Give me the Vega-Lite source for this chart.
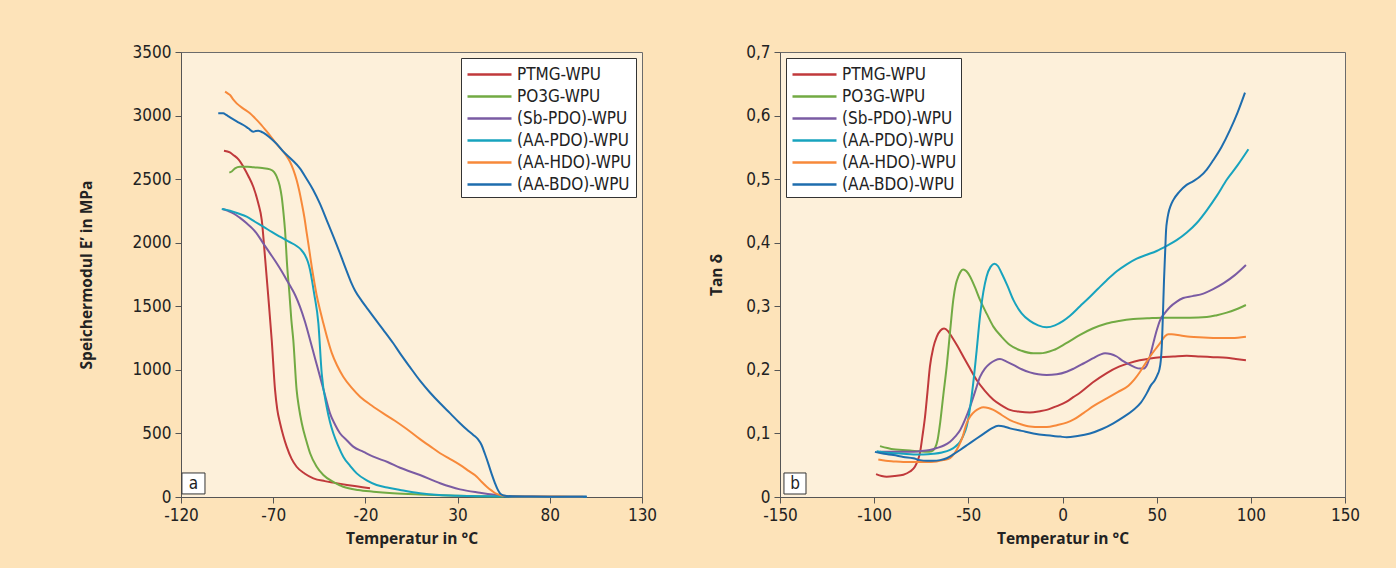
{
"$schema": "https://vega.github.io/schema/vega-lite/v6.json",
"background": "#FDE3B9",
"padding": {"left": 78, "top": 42, "right": 60, "bottom": 40},
"spacing": 51,
"datasets": {
"modul": [
{"s":"PTMG-WPU","t":-96.7,"v":2724},{"s":"PTMG-WPU","t":-93.5,"v":2710},{"s":"PTMG-WPU","t":-91.6,"v":2690},{"s":"PTMG-WPU","t":-88.5,"v":2650},{"s":"PTMG-WPU","t":-86.2,"v":2598},{"s":"PTMG-WPU","t":-83.5,"v":2525},{"s":"PTMG-WPU","t":-80.8,"v":2440},{"s":"PTMG-WPU","t":-78.1,"v":2310},{"s":"PTMG-WPU","t":-76.2,"v":2178},{"s":"PTMG-WPU","t":-74.4,"v":1880},{"s":"PTMG-WPU","t":-72.8,"v":1600},{"s":"PTMG-WPU","t":-70.8,"v":1235},{"s":"PTMG-WPU","t":-69,"v":842},{"s":"PTMG-WPU","t":-67.8,"v":690},{"s":"PTMG-WPU","t":-66.3,"v":582},{"s":"PTMG-WPU","t":-64.5,"v":480},{"s":"PTMG-WPU","t":-62.7,"v":396},{"s":"PTMG-WPU","t":-60,"v":300},{"s":"PTMG-WPU","t":-57.3,"v":238},{"s":"PTMG-WPU","t":-53,"v":185},{"s":"PTMG-WPU","t":-48.2,"v":147},{"s":"PTMG-WPU","t":-42,"v":125},{"s":"PTMG-WPU","t":-37.4,"v":113},{"s":"PTMG-WPU","t":-30,"v":95},{"s":"PTMG-WPU","t":-24,"v":82},{"s":"PTMG-WPU","t":-17.5,"v":68},
{"s":"PO3G-WPU","t":-93.8,"v":2551},{"s":"PO3G-WPU","t":-92.5,"v":2560},{"s":"PO3G-WPU","t":-90.7,"v":2585},{"s":"PO3G-WPU","t":-88,"v":2598},{"s":"PO3G-WPU","t":-84,"v":2598},{"s":"PO3G-WPU","t":-80.8,"v":2593},{"s":"PO3G-WPU","t":-76,"v":2588},{"s":"PO3G-WPU","t":-71.7,"v":2577},{"s":"PO3G-WPU","t":-69.5,"v":2555},{"s":"PO3G-WPU","t":-68.1,"v":2519},{"s":"PO3G-WPU","t":-66.5,"v":2450},{"s":"PO3G-WPU","t":-65.4,"v":2362},{"s":"PO3G-WPU","t":-64.4,"v":2230},{"s":"PO3G-WPU","t":-63.6,"v":2100},{"s":"PO3G-WPU","t":-62.4,"v":1811},{"s":"PO3G-WPU","t":-61.2,"v":1600},{"s":"PO3G-WPU","t":-60.2,"v":1400},{"s":"PO3G-WPU","t":-59.1,"v":1235},{"s":"PO3G-WPU","t":-57.3,"v":842},{"s":"PO3G-WPU","t":-56,"v":700},{"s":"PO3G-WPU","t":-54.5,"v":580},{"s":"PO3G-WPU","t":-52,"v":440},{"s":"PO3G-WPU","t":-50,"v":344},{"s":"PO3G-WPU","t":-46.5,"v":240},{"s":"PO3G-WPU","t":-42.8,"v":173},{"s":"PO3G-WPU","t":-37,"v":115},{"s":"PO3G-WPU","t":-32,"v":81},{"s":"PO3G-WPU","t":-24,"v":55},{"s":"PO3G-WPU","t":-15.7,"v":42},{"s":"PO3G-WPU","t":-5,"v":30},{"s":"PO3G-WPU","t":9.6,"v":20},{"s":"PO3G-WPU","t":25,"v":12},{"s":"PO3G-WPU","t":40,"v":6},{"s":"PO3G-WPU","t":55,"v":3},
{"s":"(Sb-PDO)-WPU","t":-97.4,"v":2265},{"s":"(Sb-PDO)-WPU","t":-94.5,"v":2250},{"s":"(Sb-PDO)-WPU","t":-91.6,"v":2231},{"s":"(Sb-PDO)-WPU","t":-88,"v":2195},{"s":"(Sb-PDO)-WPU","t":-84.4,"v":2153},{"s":"(Sb-PDO)-WPU","t":-81.5,"v":2115},{"s":"(Sb-PDO)-WPU","t":-79,"v":2074},{"s":"(Sb-PDO)-WPU","t":-75.4,"v":1995},{"s":"(Sb-PDO)-WPU","t":-71.8,"v":1918},{"s":"(Sb-PDO)-WPU","t":-68.1,"v":1838},{"s":"(Sb-PDO)-WPU","t":-65.4,"v":1775},{"s":"(Sb-PDO)-WPU","t":-62.7,"v":1707},{"s":"(Sb-PDO)-WPU","t":-60,"v":1640},{"s":"(Sb-PDO)-WPU","t":-58,"v":1585},{"s":"(Sb-PDO)-WPU","t":-55.5,"v":1497},{"s":"(Sb-PDO)-WPU","t":-52.8,"v":1380},{"s":"(Sb-PDO)-WPU","t":-50,"v":1235},{"s":"(Sb-PDO)-WPU","t":-47.3,"v":1090},{"s":"(Sb-PDO)-WPU","t":-44.6,"v":946},{"s":"(Sb-PDO)-WPU","t":-41.9,"v":800},{"s":"(Sb-PDO)-WPU","t":-39.2,"v":658},{"s":"(Sb-PDO)-WPU","t":-36.5,"v":570},{"s":"(Sb-PDO)-WPU","t":-33.8,"v":501},{"s":"(Sb-PDO)-WPU","t":-30,"v":445},{"s":"(Sb-PDO)-WPU","t":-26.6,"v":396},{"s":"(Sb-PDO)-WPU","t":-21,"v":355},{"s":"(Sb-PDO)-WPU","t":-15.7,"v":317},{"s":"(Sb-PDO)-WPU","t":-8,"v":275},{"s":"(Sb-PDO)-WPU","t":-1.2,"v":230},{"s":"(Sb-PDO)-WPU","t":9.6,"v":173},{"s":"(Sb-PDO)-WPU","t":20.5,"v":108},{"s":"(Sb-PDO)-WPU","t":31.3,"v":60},{"s":"(Sb-PDO)-WPU","t":42.1,"v":34},{"s":"(Sb-PDO)-WPU","t":51.2,"v":16},{"s":"(Sb-PDO)-WPU","t":57,"v":6},{"s":"(Sb-PDO)-WPU","t":70,"v":3},{"s":"(Sb-PDO)-WPU","t":85,"v":2},{"s":"(Sb-PDO)-WPU","t":100,"v":1},
{"s":"(AA-PDO)-WPU","t":-97.9,"v":2265},{"s":"(AA-PDO)-WPU","t":-93.4,"v":2252},{"s":"(AA-PDO)-WPU","t":-88.9,"v":2230},{"s":"(AA-PDO)-WPU","t":-84.4,"v":2205},{"s":"(AA-PDO)-WPU","t":-79.9,"v":2165},{"s":"(AA-PDO)-WPU","t":-75.4,"v":2126},{"s":"(AA-PDO)-WPU","t":-70.8,"v":2085},{"s":"(AA-PDO)-WPU","t":-66.3,"v":2047},{"s":"(AA-PDO)-WPU","t":-61.8,"v":2010},{"s":"(AA-PDO)-WPU","t":-57.3,"v":1974},{"s":"(AA-PDO)-WPU","t":-54.9,"v":1945},{"s":"(AA-PDO)-WPU","t":-52.8,"v":1903},{"s":"(AA-PDO)-WPU","t":-51.2,"v":1850},{"s":"(AA-PDO)-WPU","t":-50,"v":1785},{"s":"(AA-PDO)-WPU","t":-48.8,"v":1690},{"s":"(AA-PDO)-WPU","t":-47.8,"v":1600},{"s":"(AA-PDO)-WPU","t":-45.5,"v":1366},{"s":"(AA-PDO)-WPU","t":-43.7,"v":973},{"s":"(AA-PDO)-WPU","t":-41,"v":710},{"s":"(AA-PDO)-WPU","t":-39.2,"v":590},{"s":"(AA-PDO)-WPU","t":-37.4,"v":501},{"s":"(AA-PDO)-WPU","t":-34.7,"v":400},{"s":"(AA-PDO)-WPU","t":-32,"v":317},{"s":"(AA-PDO)-WPU","t":-28.3,"v":245},{"s":"(AA-PDO)-WPU","t":-24.7,"v":186},{"s":"(AA-PDO)-WPU","t":-19.3,"v":130},{"s":"(AA-PDO)-WPU","t":-13.9,"v":94},{"s":"(AA-PDO)-WPU","t":-7.5,"v":72},{"s":"(AA-PDO)-WPU","t":-1.2,"v":55},{"s":"(AA-PDO)-WPU","t":9.6,"v":29},{"s":"(AA-PDO)-WPU","t":20,"v":15},{"s":"(AA-PDO)-WPU","t":30,"v":9},{"s":"(AA-PDO)-WPU","t":45,"v":5},{"s":"(AA-PDO)-WPU","t":60,"v":3},{"s":"(AA-PDO)-WPU","t":80,"v":2},{"s":"(AA-PDO)-WPU","t":100,"v":1},
{"s":"(AA-HDO)-WPU","t":-96.1,"v":3188},{"s":"(AA-HDO)-WPU","t":-94.7,"v":3175},{"s":"(AA-HDO)-WPU","t":-93.4,"v":3162},{"s":"(AA-HDO)-WPU","t":-91.6,"v":3125},{"s":"(AA-HDO)-WPU","t":-89.8,"v":3096},{"s":"(AA-HDO)-WPU","t":-86.2,"v":3055},{"s":"(AA-HDO)-WPU","t":-82.6,"v":3018},{"s":"(AA-HDO)-WPU","t":-79.9,"v":2980},{"s":"(AA-HDO)-WPU","t":-77.2,"v":2939},{"s":"(AA-HDO)-WPU","t":-73.5,"v":2875},{"s":"(AA-HDO)-WPU","t":-69.9,"v":2808},{"s":"(AA-HDO)-WPU","t":-67.2,"v":2760},{"s":"(AA-HDO)-WPU","t":-64.5,"v":2716},{"s":"(AA-HDO)-WPU","t":-62.7,"v":2680},{"s":"(AA-HDO)-WPU","t":-60.9,"v":2637},{"s":"(AA-HDO)-WPU","t":-59.1,"v":2575},{"s":"(AA-HDO)-WPU","t":-57.3,"v":2493},{"s":"(AA-HDO)-WPU","t":-55.9,"v":2410},{"s":"(AA-HDO)-WPU","t":-54.5,"v":2310},{"s":"(AA-HDO)-WPU","t":-53.1,"v":2200},{"s":"(AA-HDO)-WPU","t":-51.8,"v":2074},{"s":"(AA-HDO)-WPU","t":-50.4,"v":1940},{"s":"(AA-HDO)-WPU","t":-49.1,"v":1811},{"s":"(AA-HDO)-WPU","t":-47.7,"v":1690},{"s":"(AA-HDO)-WPU","t":-46.4,"v":1585},{"s":"(AA-HDO)-WPU","t":-44.6,"v":1470},{"s":"(AA-HDO)-WPU","t":-42.8,"v":1366},{"s":"(AA-HDO)-WPU","t":-40.5,"v":1240},{"s":"(AA-HDO)-WPU","t":-38.3,"v":1135},{"s":"(AA-HDO)-WPU","t":-35.2,"v":1030},{"s":"(AA-HDO)-WPU","t":-32,"v":946},{"s":"(AA-HDO)-WPU","t":-27.5,"v":860},{"s":"(AA-HDO)-WPU","t":-22.9,"v":789},{"s":"(AA-HDO)-WPU","t":-16.6,"v":720},{"s":"(AA-HDO)-WPU","t":-10.3,"v":658},{"s":"(AA-HDO)-WPU","t":-4,"v":600},{"s":"(AA-HDO)-WPU","t":2.4,"v":535},{"s":"(AA-HDO)-WPU","t":9.6,"v":455},{"s":"(AA-HDO)-WPU","t":15,"v":400},{"s":"(AA-HDO)-WPU","t":20.5,"v":344},{"s":"(AA-HDO)-WPU","t":26,"v":298},{"s":"(AA-HDO)-WPU","t":31.3,"v":252},{"s":"(AA-HDO)-WPU","t":36,"v":205},{"s":"(AA-HDO)-WPU","t":40.4,"v":160},{"s":"(AA-HDO)-WPU","t":43,"v":120},{"s":"(AA-HDO)-WPU","t":45.8,"v":81},{"s":"(AA-HDO)-WPU","t":48.5,"v":50},{"s":"(AA-HDO)-WPU","t":51.2,"v":24},{"s":"(AA-HDO)-WPU","t":54,"v":12},{"s":"(AA-HDO)-WPU","t":56.6,"v":8},{"s":"(AA-HDO)-WPU","t":70,"v":4},{"s":"(AA-HDO)-WPU","t":85,"v":3},{"s":"(AA-HDO)-WPU","t":98,"v":2},
{"s":"(AA-BDO)-WPU","t":-99.8,"v":3018},{"s":"(AA-BDO)-WPU","t":-97.1,"v":3018},{"s":"(AA-BDO)-WPU","t":-95.5,"v":3005},{"s":"(AA-BDO)-WPU","t":-93.4,"v":2986},{"s":"(AA-BDO)-WPU","t":-89.8,"v":2955},{"s":"(AA-BDO)-WPU","t":-86.2,"v":2926},{"s":"(AA-BDO)-WPU","t":-83.5,"v":2900},{"s":"(AA-BDO)-WPU","t":-80.8,"v":2873},{"s":"(AA-BDO)-WPU","t":-79.5,"v":2878},{"s":"(AA-BDO)-WPU","t":-78.1,"v":2881},{"s":"(AA-BDO)-WPU","t":-76.7,"v":2875},{"s":"(AA-BDO)-WPU","t":-75.4,"v":2865},{"s":"(AA-BDO)-WPU","t":-72,"v":2830},{"s":"(AA-BDO)-WPU","t":-68,"v":2775},{"s":"(AA-BDO)-WPU","t":-64.5,"v":2716},{"s":"(AA-BDO)-WPU","t":-60,"v":2655},{"s":"(AA-BDO)-WPU","t":-55.5,"v":2585},{"s":"(AA-BDO)-WPU","t":-52,"v":2505},{"s":"(AA-BDO)-WPU","t":-48.3,"v":2415},{"s":"(AA-BDO)-WPU","t":-44.6,"v":2305},{"s":"(AA-BDO)-WPU","t":-41,"v":2178},{"s":"(AA-BDO)-WPU","t":-37.4,"v":2050},{"s":"(AA-BDO)-WPU","t":-33.8,"v":1917},{"s":"(AA-BDO)-WPU","t":-31.5,"v":1828},{"s":"(AA-BDO)-WPU","t":-29.2,"v":1742},{"s":"(AA-BDO)-WPU","t":-27.5,"v":1680},{"s":"(AA-BDO)-WPU","t":-25.5,"v":1620},{"s":"(AA-BDO)-WPU","t":-22,"v":1543},{"s":"(AA-BDO)-WPU","t":-18.5,"v":1474},{"s":"(AA-BDO)-WPU","t":-15.7,"v":1418},{"s":"(AA-BDO)-WPU","t":-10.3,"v":1315},{"s":"(AA-BDO)-WPU","t":-4.9,"v":1209},{"s":"(AA-BDO)-WPU","t":-1.2,"v":1130},{"s":"(AA-BDO)-WPU","t":4,"v":1025},{"s":"(AA-BDO)-WPU","t":9.6,"v":915},{"s":"(AA-BDO)-WPU","t":15,"v":822},{"s":"(AA-BDO)-WPU","t":20.5,"v":737},{"s":"(AA-BDO)-WPU","t":26,"v":658},{"s":"(AA-BDO)-WPU","t":31.3,"v":580},{"s":"(AA-BDO)-WPU","t":35,"v":530},{"s":"(AA-BDO)-WPU","t":38.5,"v":488},{"s":"(AA-BDO)-WPU","t":41,"v":455},{"s":"(AA-BDO)-WPU","t":43,"v":409},{"s":"(AA-BDO)-WPU","t":44.8,"v":340},{"s":"(AA-BDO)-WPU","t":46.6,"v":265},{"s":"(AA-BDO)-WPU","t":48.5,"v":180},{"s":"(AA-BDO)-WPU","t":50.3,"v":108},{"s":"(AA-BDO)-WPU","t":51.7,"v":60},{"s":"(AA-BDO)-WPU","t":53,"v":29},{"s":"(AA-BDO)-WPU","t":55,"v":12},{"s":"(AA-BDO)-WPU","t":56.6,"v":8},{"s":"(AA-BDO)-WPU","t":70,"v":3},{"s":"(AA-BDO)-WPU","t":85,"v":2},{"s":"(AA-BDO)-WPU","t":100,"v":1}
],
"tand": [
{"s":"PTMG-WPU","t":-99,"v":0.036},{"s":"PTMG-WPU","t":-96,"v":0.033},{"s":"PTMG-WPU","t":-93.4,"v":0.032},{"s":"PTMG-WPU","t":-89,"v":0.033},{"s":"PTMG-WPU","t":-84.5,"v":0.035},{"s":"PTMG-WPU","t":-81,"v":0.04},{"s":"PTMG-WPU","t":-78.3,"v":0.048},{"s":"PTMG-WPU","t":-76.8,"v":0.058},{"s":"PTMG-WPU","t":-75.7,"v":0.069},{"s":"PTMG-WPU","t":-74.4,"v":0.095},{"s":"PTMG-WPU","t":-73,"v":0.126},{"s":"PTMG-WPU","t":-71.7,"v":0.165},{"s":"PTMG-WPU","t":-70.4,"v":0.205},{"s":"PTMG-WPU","t":-68.6,"v":0.235},{"s":"PTMG-WPU","t":-66.8,"v":0.252},{"s":"PTMG-WPU","t":-64.8,"v":0.262},{"s":"PTMG-WPU","t":-62.9,"v":0.265},{"s":"PTMG-WPU","t":-60.8,"v":0.261},{"s":"PTMG-WPU","t":-58.8,"v":0.252},{"s":"PTMG-WPU","t":-55.7,"v":0.237},{"s":"PTMG-WPU","t":-52.7,"v":0.221},{"s":"PTMG-WPU","t":-49.1,"v":0.202},{"s":"PTMG-WPU","t":-45.6,"v":0.184},{"s":"PTMG-WPU","t":-41.2,"v":0.167},{"s":"PTMG-WPU","t":-36.7,"v":0.153},{"s":"PTMG-WPU","t":-32.3,"v":0.144},{"s":"PTMG-WPU","t":-27.9,"v":0.137},{"s":"PTMG-WPU","t":-22.6,"v":0.134},{"s":"PTMG-WPU","t":-17.3,"v":0.133},{"s":"PTMG-WPU","t":-11.9,"v":0.135},{"s":"PTMG-WPU","t":-8.4,"v":0.137},{"s":"PTMG-WPU","t":-3,"v":0.143},{"s":"PTMG-WPU","t":2.2,"v":0.15},{"s":"PTMG-WPU","t":5.7,"v":0.157},{"s":"PTMG-WPU","t":9.3,"v":0.164},{"s":"PTMG-WPU","t":16,"v":0.18},{"s":"PTMG-WPU","t":23.5,"v":0.195},{"s":"PTMG-WPU","t":30,"v":0.205},{"s":"PTMG-WPU","t":35.8,"v":0.211},{"s":"PTMG-WPU","t":41,"v":0.215},{"s":"PTMG-WPU","t":46.5,"v":0.218},{"s":"PTMG-WPU","t":52,"v":0.22},{"s":"PTMG-WPU","t":58.8,"v":0.221},{"s":"PTMG-WPU","t":66,"v":0.222},{"s":"PTMG-WPU","t":73,"v":0.221},{"s":"PTMG-WPU","t":80,"v":0.22},{"s":"PTMG-WPU","t":87.2,"v":0.219},{"s":"PTMG-WPU","t":92,"v":0.217},{"s":"PTMG-WPU","t":97.4,"v":0.215},
{"s":"PO3G-WPU","t":-96.9,"v":0.08},{"s":"PO3G-WPU","t":-93,"v":0.077},{"s":"PO3G-WPU","t":-89.8,"v":0.075},{"s":"PO3G-WPU","t":-85,"v":0.074},{"s":"PO3G-WPU","t":-81,"v":0.073},{"s":"PO3G-WPU","t":-76,"v":0.072},{"s":"PO3G-WPU","t":-72.1,"v":0.071},{"s":"PO3G-WPU","t":-69.5,"v":0.072},{"s":"PO3G-WPU","t":-67.7,"v":0.077},{"s":"PO3G-WPU","t":-66.3,"v":0.09},{"s":"PO3G-WPU","t":-65,"v":0.116},{"s":"PO3G-WPU","t":-63.3,"v":0.16},{"s":"PO3G-WPU","t":-61.5,"v":0.205},{"s":"PO3G-WPU","t":-59.7,"v":0.26},{"s":"PO3G-WPU","t":-58,"v":0.31},{"s":"PO3G-WPU","t":-56.6,"v":0.335},{"s":"PO3G-WPU","t":-55.3,"v":0.347},{"s":"PO3G-WPU","t":-54,"v":0.355},{"s":"PO3G-WPU","t":-52.7,"v":0.358},{"s":"PO3G-WPU","t":-51,"v":0.355},{"s":"PO3G-WPU","t":-49.1,"v":0.347},{"s":"PO3G-WPU","t":-46.5,"v":0.33},{"s":"PO3G-WPU","t":-43.8,"v":0.31},{"s":"PO3G-WPU","t":-40.2,"v":0.288},{"s":"PO3G-WPU","t":-36.7,"v":0.268},{"s":"PO3G-WPU","t":-32.3,"v":0.252},{"s":"PO3G-WPU","t":-27.9,"v":0.239},{"s":"PO3G-WPU","t":-21.7,"v":0.23},{"s":"PO3G-WPU","t":-15.5,"v":0.226},{"s":"PO3G-WPU","t":-11.9,"v":0.226},{"s":"PO3G-WPU","t":-4.9,"v":0.231},{"s":"PO3G-WPU","t":2,"v":0.242},{"s":"PO3G-WPU","t":9.3,"v":0.255},{"s":"PO3G-WPU","t":16,"v":0.265},{"s":"PO3G-WPU","t":23.5,"v":0.273},{"s":"PO3G-WPU","t":30,"v":0.277},{"s":"PO3G-WPU","t":37.6,"v":0.28},{"s":"PO3G-WPU","t":45,"v":0.281},{"s":"PO3G-WPU","t":53.5,"v":0.282},{"s":"PO3G-WPU","t":60,"v":0.282},{"s":"PO3G-WPU","t":67.7,"v":0.282},{"s":"PO3G-WPU","t":76.6,"v":0.283},{"s":"PO3G-WPU","t":82,"v":0.286},{"s":"PO3G-WPU","t":87.2,"v":0.29},{"s":"PO3G-WPU","t":92,"v":0.295},{"s":"PO3G-WPU","t":97.4,"v":0.302},
{"s":"(Sb-PDO)-WPU","t":-96.9,"v":0.071},{"s":"(Sb-PDO)-WPU","t":-91.6,"v":0.071},{"s":"(Sb-PDO)-WPU","t":-86.3,"v":0.071},{"s":"(Sb-PDO)-WPU","t":-81,"v":0.071},{"s":"(Sb-PDO)-WPU","t":-75.7,"v":0.072},{"s":"(Sb-PDO)-WPU","t":-70.4,"v":0.074},{"s":"(Sb-PDO)-WPU","t":-66.8,"v":0.077},{"s":"(Sb-PDO)-WPU","t":-63,"v":0.081},{"s":"(Sb-PDO)-WPU","t":-59.7,"v":0.087},{"s":"(Sb-PDO)-WPU","t":-57,"v":0.095},{"s":"(Sb-PDO)-WPU","t":-54.4,"v":0.105},{"s":"(Sb-PDO)-WPU","t":-51.7,"v":0.122},{"s":"(Sb-PDO)-WPU","t":-49.1,"v":0.142},{"s":"(Sb-PDO)-WPU","t":-46.5,"v":0.165},{"s":"(Sb-PDO)-WPU","t":-43.8,"v":0.189},{"s":"(Sb-PDO)-WPU","t":-41.2,"v":0.202},{"s":"(Sb-PDO)-WPU","t":-38.5,"v":0.21},{"s":"(Sb-PDO)-WPU","t":-35.8,"v":0.215},{"s":"(Sb-PDO)-WPU","t":-33.2,"v":0.217},{"s":"(Sb-PDO)-WPU","t":-29.7,"v":0.213},{"s":"(Sb-PDO)-WPU","t":-26.1,"v":0.208},{"s":"(Sb-PDO)-WPU","t":-21.7,"v":0.201},{"s":"(Sb-PDO)-WPU","t":-17.3,"v":0.196},{"s":"(Sb-PDO)-WPU","t":-12.9,"v":0.193},{"s":"(Sb-PDO)-WPU","t":-8.4,"v":0.192},{"s":"(Sb-PDO)-WPU","t":-3,"v":0.193},{"s":"(Sb-PDO)-WPU","t":2.2,"v":0.197},{"s":"(Sb-PDO)-WPU","t":6,"v":0.202},{"s":"(Sb-PDO)-WPU","t":11.1,"v":0.21},{"s":"(Sb-PDO)-WPU","t":16,"v":0.218},{"s":"(Sb-PDO)-WPU","t":20,"v":0.224},{"s":"(Sb-PDO)-WPU","t":22.6,"v":0.226},{"s":"(Sb-PDO)-WPU","t":25.5,"v":0.225},{"s":"(Sb-PDO)-WPU","t":28.8,"v":0.221},{"s":"(Sb-PDO)-WPU","t":32,"v":0.214},{"s":"(Sb-PDO)-WPU","t":35.8,"v":0.208},{"s":"(Sb-PDO)-WPU","t":38.5,"v":0.204},{"s":"(Sb-PDO)-WPU","t":41.2,"v":0.202},{"s":"(Sb-PDO)-WPU","t":43,"v":0.202},{"s":"(Sb-PDO)-WPU","t":44.7,"v":0.207},{"s":"(Sb-PDO)-WPU","t":46.5,"v":0.222},{"s":"(Sb-PDO)-WPU","t":48.2,"v":0.242},{"s":"(Sb-PDO)-WPU","t":50,"v":0.262},{"s":"(Sb-PDO)-WPU","t":51.8,"v":0.278},{"s":"(Sb-PDO)-WPU","t":54.5,"v":0.29},{"s":"(Sb-PDO)-WPU","t":57.1,"v":0.299},{"s":"(Sb-PDO)-WPU","t":60.5,"v":0.307},{"s":"(Sb-PDO)-WPU","t":64.1,"v":0.313},{"s":"(Sb-PDO)-WPU","t":69,"v":0.316},{"s":"(Sb-PDO)-WPU","t":74.8,"v":0.32},{"s":"(Sb-PDO)-WPU","t":80,"v":0.327},{"s":"(Sb-PDO)-WPU","t":85.4,"v":0.336},{"s":"(Sb-PDO)-WPU","t":91.5,"v":0.349},{"s":"(Sb-PDO)-WPU","t":97.4,"v":0.365},
{"s":"(AA-PDO)-WPU","t":-98.7,"v":0.072},{"s":"(AA-PDO)-WPU","t":-94.3,"v":0.07},{"s":"(AA-PDO)-WPU","t":-89.8,"v":0.069},{"s":"(AA-PDO)-WPU","t":-84.5,"v":0.068},{"s":"(AA-PDO)-WPU","t":-79.2,"v":0.067},{"s":"(AA-PDO)-WPU","t":-73.9,"v":0.067},{"s":"(AA-PDO)-WPU","t":-68.6,"v":0.068},{"s":"(AA-PDO)-WPU","t":-64,"v":0.07},{"s":"(AA-PDO)-WPU","t":-59.7,"v":0.074},{"s":"(AA-PDO)-WPU","t":-57,"v":0.079},{"s":"(AA-PDO)-WPU","t":-54.4,"v":0.087},{"s":"(AA-PDO)-WPU","t":-52.6,"v":0.097},{"s":"(AA-PDO)-WPU","t":-50.9,"v":0.111},{"s":"(AA-PDO)-WPU","t":-49.1,"v":0.14},{"s":"(AA-PDO)-WPU","t":-47.4,"v":0.179},{"s":"(AA-PDO)-WPU","t":-45.6,"v":0.23},{"s":"(AA-PDO)-WPU","t":-43.8,"v":0.284},{"s":"(AA-PDO)-WPU","t":-42,"v":0.323},{"s":"(AA-PDO)-WPU","t":-40.3,"v":0.347},{"s":"(AA-PDO)-WPU","t":-38.2,"v":0.362},{"s":"(AA-PDO)-WPU","t":-36.2,"v":0.367},{"s":"(AA-PDO)-WPU","t":-34.2,"v":0.363},{"s":"(AA-PDO)-WPU","t":-32.3,"v":0.352},{"s":"(AA-PDO)-WPU","t":-29.2,"v":0.332},{"s":"(AA-PDO)-WPU","t":-26.1,"v":0.31},{"s":"(AA-PDO)-WPU","t":-21.7,"v":0.289},{"s":"(AA-PDO)-WPU","t":-17.3,"v":0.277},{"s":"(AA-PDO)-WPU","t":-12.9,"v":0.27},{"s":"(AA-PDO)-WPU","t":-8.4,"v":0.267},{"s":"(AA-PDO)-WPU","t":-4,"v":0.27},{"s":"(AA-PDO)-WPU","t":0.4,"v":0.277},{"s":"(AA-PDO)-WPU","t":4,"v":0.285},{"s":"(AA-PDO)-WPU","t":9.3,"v":0.3},{"s":"(AA-PDO)-WPU","t":14.6,"v":0.315},{"s":"(AA-PDO)-WPU","t":19,"v":0.328},{"s":"(AA-PDO)-WPU","t":23.5,"v":0.341},{"s":"(AA-PDO)-WPU","t":28.8,"v":0.355},{"s":"(AA-PDO)-WPU","t":34.1,"v":0.366},{"s":"(AA-PDO)-WPU","t":39.4,"v":0.375},{"s":"(AA-PDO)-WPU","t":44.7,"v":0.381},{"s":"(AA-PDO)-WPU","t":50,"v":0.387},{"s":"(AA-PDO)-WPU","t":55.3,"v":0.395},{"s":"(AA-PDO)-WPU","t":60.6,"v":0.404},{"s":"(AA-PDO)-WPU","t":66,"v":0.416},{"s":"(AA-PDO)-WPU","t":71.3,"v":0.431},{"s":"(AA-PDO)-WPU","t":76.6,"v":0.451},{"s":"(AA-PDO)-WPU","t":82,"v":0.474},{"s":"(AA-PDO)-WPU","t":87.2,"v":0.499},{"s":"(AA-PDO)-WPU","t":93,"v":0.522},{"s":"(AA-PDO)-WPU","t":98.7,"v":0.547},
{"s":"(AA-HDO)-WPU","t":-97.8,"v":0.059},{"s":"(AA-HDO)-WPU","t":-93.8,"v":0.057},{"s":"(AA-HDO)-WPU","t":-89.8,"v":0.056},{"s":"(AA-HDO)-WPU","t":-84.5,"v":0.055},{"s":"(AA-HDO)-WPU","t":-79.2,"v":0.055},{"s":"(AA-HDO)-WPU","t":-73,"v":0.055},{"s":"(AA-HDO)-WPU","t":-66.8,"v":0.056},{"s":"(AA-HDO)-WPU","t":-63.3,"v":0.058},{"s":"(AA-HDO)-WPU","t":-59.7,"v":0.061},{"s":"(AA-HDO)-WPU","t":-57.5,"v":0.068},{"s":"(AA-HDO)-WPU","t":-55.3,"v":0.079},{"s":"(AA-HDO)-WPU","t":-53,"v":0.095},{"s":"(AA-HDO)-WPU","t":-50.9,"v":0.116},{"s":"(AA-HDO)-WPU","t":-48.7,"v":0.128},{"s":"(AA-HDO)-WPU","t":-46.5,"v":0.135},{"s":"(AA-HDO)-WPU","t":-44.3,"v":0.139},{"s":"(AA-HDO)-WPU","t":-42,"v":0.141},{"s":"(AA-HDO)-WPU","t":-39.4,"v":0.14},{"s":"(AA-HDO)-WPU","t":-36.7,"v":0.137},{"s":"(AA-HDO)-WPU","t":-32.3,"v":0.129},{"s":"(AA-HDO)-WPU","t":-27.9,"v":0.121},{"s":"(AA-HDO)-WPU","t":-22.6,"v":0.115},{"s":"(AA-HDO)-WPU","t":-17.3,"v":0.111},{"s":"(AA-HDO)-WPU","t":-11.9,"v":0.11},{"s":"(AA-HDO)-WPU","t":-8.4,"v":0.11},{"s":"(AA-HDO)-WPU","t":-3,"v":0.113},{"s":"(AA-HDO)-WPU","t":2.2,"v":0.117},{"s":"(AA-HDO)-WPU","t":6,"v":0.122},{"s":"(AA-HDO)-WPU","t":11.1,"v":0.132},{"s":"(AA-HDO)-WPU","t":17,"v":0.144},{"s":"(AA-HDO)-WPU","t":23.5,"v":0.155},{"s":"(AA-HDO)-WPU","t":29.3,"v":0.165},{"s":"(AA-HDO)-WPU","t":35,"v":0.175},{"s":"(AA-HDO)-WPU","t":38.2,"v":0.185},{"s":"(AA-HDO)-WPU","t":41.2,"v":0.197},{"s":"(AA-HDO)-WPU","t":44,"v":0.21},{"s":"(AA-HDO)-WPU","t":46.5,"v":0.221},{"s":"(AA-HDO)-WPU","t":49.2,"v":0.232},{"s":"(AA-HDO)-WPU","t":51.8,"v":0.242},{"s":"(AA-HDO)-WPU","t":54.4,"v":0.253},{"s":"(AA-HDO)-WPU","t":56.2,"v":0.256},{"s":"(AA-HDO)-WPU","t":58,"v":0.256},{"s":"(AA-HDO)-WPU","t":62.8,"v":0.254},{"s":"(AA-HDO)-WPU","t":67.7,"v":0.252},{"s":"(AA-HDO)-WPU","t":75,"v":0.251},{"s":"(AA-HDO)-WPU","t":81.9,"v":0.25},{"s":"(AA-HDO)-WPU","t":90,"v":0.25},{"s":"(AA-HDO)-WPU","t":97.4,"v":0.252},
{"s":"(AA-BDO)-WPU","t":-99.6,"v":0.071},{"s":"(AA-BDO)-WPU","t":-94.7,"v":0.068},{"s":"(AA-BDO)-WPU","t":-89.8,"v":0.066},{"s":"(AA-BDO)-WPU","t":-84.5,"v":0.063},{"s":"(AA-BDO)-WPU","t":-79.2,"v":0.061},{"s":"(AA-BDO)-WPU","t":-75.7,"v":0.058},{"s":"(AA-BDO)-WPU","t":-72,"v":0.057},{"s":"(AA-BDO)-WPU","t":-68.6,"v":0.057},{"s":"(AA-BDO)-WPU","t":-65,"v":0.058},{"s":"(AA-BDO)-WPU","t":-61.5,"v":0.061},{"s":"(AA-BDO)-WPU","t":-58,"v":0.067},{"s":"(AA-BDO)-WPU","t":-54.4,"v":0.074},{"s":"(AA-BDO)-WPU","t":-50,"v":0.083},{"s":"(AA-BDO)-WPU","t":-45.6,"v":0.092},{"s":"(AA-BDO)-WPU","t":-41.6,"v":0.1},{"s":"(AA-BDO)-WPU","t":-37.6,"v":0.108},{"s":"(AA-BDO)-WPU","t":-34.1,"v":0.112},{"s":"(AA-BDO)-WPU","t":-31,"v":0.111},{"s":"(AA-BDO)-WPU","t":-27.9,"v":0.108},{"s":"(AA-BDO)-WPU","t":-21.7,"v":0.104},{"s":"(AA-BDO)-WPU","t":-15.5,"v":0.1},{"s":"(AA-BDO)-WPU","t":-8.5,"v":0.097},{"s":"(AA-BDO)-WPU","t":-1.2,"v":0.095},{"s":"(AA-BDO)-WPU","t":2.2,"v":0.094},{"s":"(AA-BDO)-WPU","t":8,"v":0.096},{"s":"(AA-BDO)-WPU","t":14.6,"v":0.1},{"s":"(AA-BDO)-WPU","t":21,"v":0.107},{"s":"(AA-BDO)-WPU","t":27,"v":0.116},{"s":"(AA-BDO)-WPU","t":32.5,"v":0.126},{"s":"(AA-BDO)-WPU","t":37.6,"v":0.137},{"s":"(AA-BDO)-WPU","t":41.5,"v":0.148},{"s":"(AA-BDO)-WPU","t":44.7,"v":0.163},{"s":"(AA-BDO)-WPU","t":47,"v":0.176},{"s":"(AA-BDO)-WPU","t":49.1,"v":0.184},{"s":"(AA-BDO)-WPU","t":50.4,"v":0.192},{"s":"(AA-BDO)-WPU","t":51.4,"v":0.2},{"s":"(AA-BDO)-WPU","t":52.2,"v":0.215},{"s":"(AA-BDO)-WPU","t":52.7,"v":0.236},{"s":"(AA-BDO)-WPU","t":53.3,"v":0.285},{"s":"(AA-BDO)-WPU","t":53.9,"v":0.341},{"s":"(AA-BDO)-WPU","t":54.5,"v":0.385},{"s":"(AA-BDO)-WPU","t":55,"v":0.42},{"s":"(AA-BDO)-WPU","t":55.6,"v":0.436},{"s":"(AA-BDO)-WPU","t":56.2,"v":0.446},{"s":"(AA-BDO)-WPU","t":57.4,"v":0.458},{"s":"(AA-BDO)-WPU","t":58.8,"v":0.467},{"s":"(AA-BDO)-WPU","t":62,"v":0.48},{"s":"(AA-BDO)-WPU","t":65.9,"v":0.491},{"s":"(AA-BDO)-WPU","t":69.5,"v":0.497},{"s":"(AA-BDO)-WPU","t":73,"v":0.504},{"s":"(AA-BDO)-WPU","t":76.6,"v":0.515},{"s":"(AA-BDO)-WPU","t":80.1,"v":0.53},{"s":"(AA-BDO)-WPU","t":84.5,"v":0.551},{"s":"(AA-BDO)-WPU","t":88.9,"v":0.577},{"s":"(AA-BDO)-WPU","t":93,"v":0.605},{"s":"(AA-BDO)-WPU","t":96.9,"v":0.636}
]
},
"hconcat": [
{
"width": 461, "height": 445,
"layer": [
{"data": {"name": "modul"},
 "mark": {"type": "line", "strokeWidth": 2, "interpolate": "monotone"},
 "encoding": {
  "x": {"field": "t", "type": "quantitative", "scale": {"domain": [-120, 130], "nice": false}, "axis": {"values": [-120, -70, -20, 30, 80, 130], "labelExpr": "'' + datum.value", "title": "Temperatur in °C"}},
  "y": {"field": "v", "type": "quantitative", "scale": {"domain": [0, 3500], "nice": false}, "axis": {"values": [0, 500, 1000, 1500, 2000, 2500, 3000, 3500], "labelExpr": "'' + datum.value", "title": "Speichermodul E’ in MPa", "titlePadding": 38}},
  "color": {"field": "s", "type": "nominal", "scale": {"domain": ["PTMG-WPU", "PO3G-WPU", "(Sb-PDO)-WPU", "(AA-PDO)-WPU", "(AA-HDO)-WPU", "(AA-BDO)-WPU"], "range": ["#C0393B", "#72AA43", "#7A5BA3", "#17A3BE", "#F7893A", "#1E6DAE"]}, "legend": {"orient": "top-right", "offset": 6}},
  "detail": {"field": "s"}
 }},
{"data": {"values": [{"x1": -119.5, "x2": -107, "y1": 24, "y2": 189, "tx": -113.2, "ty": 104, "label": "a"}]},
 "layer": [
  {"mark": {"type": "rect", "fill": "white", "stroke": "#333", "strokeWidth": 1}, "encoding": {"x": {"field": "x1", "type": "quantitative"}, "x2": {"field": "x2"}, "y": {"field": "y1", "type": "quantitative"}, "y2": {"field": "y2"}}},
  {"mark": {"type": "text", "fontSize": 17, "font": "Liberation Sans Narrow, DejaVu Sans Condensed, sans-serif", "color": "#222", "baseline": "middle"}, "encoding": {"x": {"field": "tx", "type": "quantitative"}, "y": {"field": "ty", "type": "quantitative"}, "text": {"field": "label"}}}
 ]}
]
},
{
"width": 565, "height": 445,
"layer": [
{"data": {"name": "tand"},
 "mark": {"type": "line", "strokeWidth": 2, "interpolate": "monotone"},
 "encoding": {
  "x": {"field": "t", "type": "quantitative", "scale": {"domain": [-150, 150], "nice": false}, "axis": {"values": [-150, -100, -50, 0, 50, 100, 150], "labelExpr": "'' + datum.value", "title": "Temperatur in °C"}},
  "y": {"field": "v", "type": "quantitative", "scale": {"domain": [0, 0.7], "nice": false}, "axis": {"values": [0, 0.1, 0.2, 0.3, 0.4, 0.5, 0.6, 0.7], "labelExpr": "datum.value == 0 ? '0' : replace(format(datum.value, '.1f'), '.', ',')", "title": "Tan δ", "titlePadding": 21}},
  "color": {"field": "s", "type": "nominal", "scale": {"domain": ["PTMG-WPU", "PO3G-WPU", "(Sb-PDO)-WPU", "(AA-PDO)-WPU", "(AA-HDO)-WPU", "(AA-BDO)-WPU"], "range": ["#C0393B", "#72AA43", "#7A5BA3", "#17A3BE", "#F7893A", "#1E6DAE"]}, "legend": {"orient": "top-left", "offset": 6}},
  "detail": {"field": "s"}
 }},
{"data": {"values": [{"x1": -147.9, "x2": -136.2, "y1": 0.0047, "y2": 0.0378, "tx": -142, "ty": 0.021, "label": "b"}]},
 "layer": [
  {"mark": {"type": "rect", "fill": "white", "stroke": "#333", "strokeWidth": 1}, "encoding": {"x": {"field": "x1", "type": "quantitative"}, "x2": {"field": "x2"}, "y": {"field": "y1", "type": "quantitative"}, "y2": {"field": "y2"}}},
  {"mark": {"type": "text", "fontSize": 17, "font": "Liberation Sans Narrow, DejaVu Sans Condensed, sans-serif", "color": "#222", "baseline": "middle"}, "encoding": {"x": {"field": "tx", "type": "quantitative"}, "y": {"field": "ty", "type": "quantitative"}, "text": {"field": "label"}}}
 ]}
]
}
],
"config": {
 "view": {"fill": "#FDF0DA", "stroke": "#6b6b6b", "strokeWidth": 1},
 "axis": {"grid": false, "domainColor": "#555", "tickColor": "#555", "tickSize": 6, "labelPadding": 4, "labelFont": "Liberation Sans Narrow, DejaVu Sans Condensed, sans-serif", "labelFontSize": 17, "labelColor": "#222", "titleFont": "Open Sans", "titleFontSize": 15.5, "titleFontWeight": "bold", "titleColor": "#222"},
 "axisX": {"titlePadding": 8, "labelFlush": false},
 "legend": {"title": null, "fillColor": "white", "strokeColor": "#333", "padding": 4, "labelFont": "Liberation Sans Narrow, DejaVu Sans Condensed, sans-serif", "labelFontSize": 17, "labelColor": "#222", "symbolType": "M-2,0H2", "symbolSize": 484, "symbolStrokeWidth": 2.5, "symbolOffset": 12, "labelOffset": 15, "rowPadding": 1}
}
}
